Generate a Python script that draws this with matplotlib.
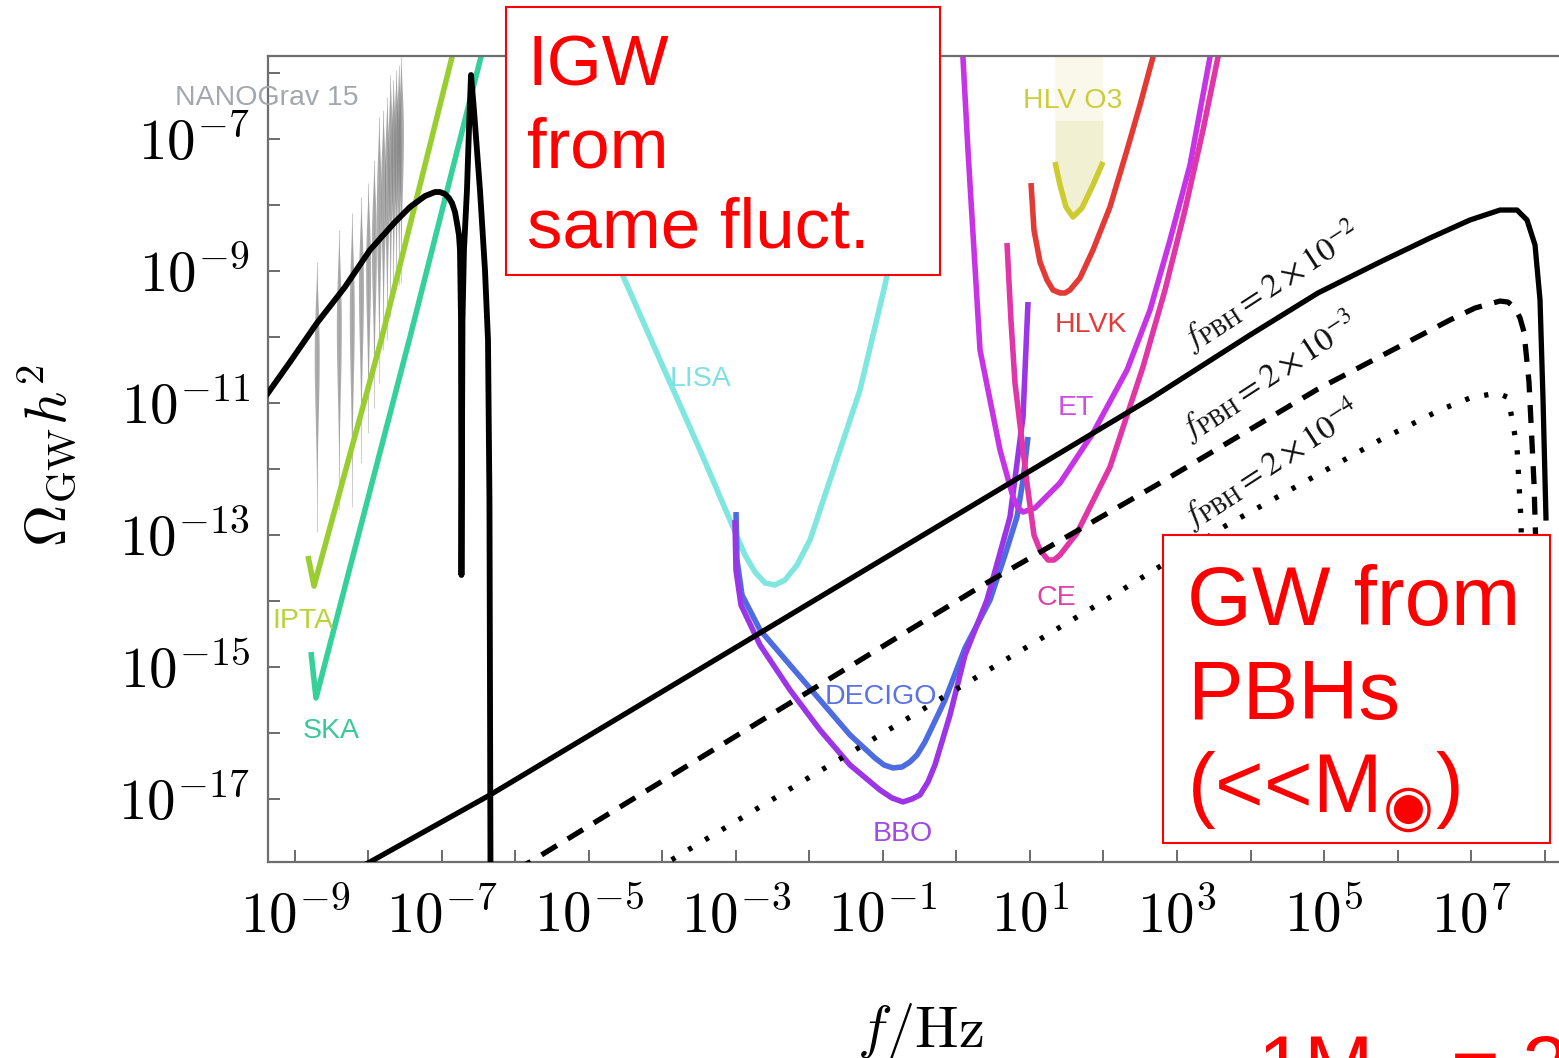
"""
Omega_GW h^2 versus frequency: induced GWs, GWs from evaporating PBHs and
detector sensitivity curves. Writes out.png.
"""
import matplotlib
matplotlib.use("Agg")
import matplotlib.pyplot as plt
import numpy as np
from matplotlib.patches import Rectangle

plt.rcParams["mathtext.fontset"] = "cm"
plt.rcParams["font.family"] = ["Liberation Sans", "DejaVu Sans"]

# ---- data (log10 f [Hz], log10 Omega_GW h^2) ----
IGW_LOGF = [-9.40, -9.068, -8.701, -8.320, -7.980, -7.639, -7.435, -7.231, -7.095,
            -7.027, -6.959, -6.905, -6.864, -6.823, -6.796, -6.769, -6.755, -6.741,
            -6.735, -6.721, -6.701, -6.660, -6.633, -6.605, -6.565, -6.483, -6.415,
            -6.374, -6.354, -6.340]
IGW_LOGO = [-10.90, -10.379, -9.788, -9.242, -8.682, -8.258, -8.030, -7.864, -7.803,
            -7.803, -7.833, -7.894, -7.970, -8.106, -8.273, -8.455, -8.682, -9.742,
            -13.606, -9.742, -8.682, -7.773, -6.864, -6.030, -6.561, -7.773, -8.985,
            -10.045, -12.470, -18.076]

NANO_LOGF = [-8.704, -8.403, -8.227, -8.102, -8.005, -7.926, -7.859,
             -7.801, -7.750, -7.704, -7.663, -7.625, -7.590, -7.558]
NANO_TOP = [-8.864, -8.379, -8.121, -7.879, -7.667, -7.318, -6.667,
            -6.561, -6.364, -6.030, -6.106, -5.955, -5.879, -5.758]
NANO_BOT = [-12.955, -12.621, -12.576, -11.909, -11.455, -11.076, -10.697,
            -10.197, -10.045, -9.697, -9.439, -9.288, -9.212, -9.182]

IPTA_LOGF = [-8.823, -8.741, -7.816, -6.823]
IPTA_LOGO = [-13.318, -13.773, -10.00, -5.576]

SKA_LOGF = [-8.782, -8.714, -7.435, -6.429]
SKA_LOGO = [-14.773, -15.470, -10.00, -5.576]

LISA_LOGF = [-5.952, -4.483, -4.034, -3.490, -3.082, -2.878, -2.741, -2.605, -2.469,
             -2.333, -2.170, -1.993, -1.721, -1.313, -0.973, -0.293]
LISA_LOGO = [-5.500, -9.212, -10.348, -11.712, -12.773, -13.303, -13.561, -13.727,
             -13.758, -13.682, -13.455, -13.076, -12.167, -10.803, -9.212, -5.500]

DECIGO_LOGF = [-3.000, -2.986, -2.918, -2.673, -2.265, -1.857, -1.449, -1.109, -0.986,
               -0.864, -0.741, -0.633, -0.537, -0.429, -0.156, 0.116, 0.456, 0.660,
               0.823, 0.905, 0.973]
DECIGO_LOGO = [-12.652, -13.379, -13.909, -14.439, -14.970, -15.500, -16.030, -16.379,
               -16.485, -16.530, -16.515, -16.439, -16.333, -16.136, -15.500, -14.712,
               -13.985, -13.303, -12.727, -12.167, -11.515]

BBO_LOGF = [-3.014, -3.000, -2.932, -2.673, -2.265, -1.857, -1.449, -1.041, -0.878,
            -0.728, -0.605, -0.497, -0.388, -0.293, -0.088, 0.116, 0.415, 0.728,
            0.905, 0.973]
BBO_LOGO = [-12.773, -13.530, -14.061, -14.667, -15.348, -15.955, -16.485, -16.864,
            -16.985, -17.045, -17.000, -16.939, -16.742, -16.485, -15.727, -14.818,
            -13.985, -12.727, -11.212, -9.470]

ET_LOGF = [0.075, 0.156, 0.320, 0.592, 0.769, 0.837, 0.905, 1.068, 1.408, 1.857,
           2.320, 2.633, 2.905, 3.177, 3.449, 3.503]
ET_LOGO = [-5.500, -7.167, -10.197, -11.712, -12.424, -12.591, -12.652, -12.591,
           -12.212, -11.455, -10.500, -9.591, -8.530, -7.394, -5.758, -5.424]

CE_LOGF = [0.687, 0.741, 0.796, 0.959, 1.054, 1.136, 1.245, 1.327, 1.408, 1.639,
           2.088, 2.537, 2.837, 3.109, 3.354, 3.558, 3.612]
CE_LOGO = [-8.576, -9.742, -10.697, -12.212, -13.000, -13.227, -13.379, -13.379,
           -13.303, -12.970, -11.970, -10.455, -9.288, -8.076, -6.864, -5.758, -5.424]

HLVK_LOGF = [1.014, 1.054, 1.136, 1.231, 1.313, 1.408, 1.476, 1.544, 1.680, 1.857,
             2.088, 2.320, 2.497, 2.673, 2.728]
HLVK_LOGO = [-7.667, -8.379, -8.864, -9.136, -9.288, -9.333, -9.333, -9.288, -9.106,
             -8.682, -8.030, -7.167, -6.485, -5.758, -5.500]

O3_LOGF = [1.340, 1.408, 1.490, 1.585, 1.707, 1.857, 1.993]
O3_LOGO = [-7.348, -7.697, -8.030, -8.182, -8.045, -7.697, -7.348]

PBH2_LOGF = [-8.184, -7.980, -6.347, 2.633, 3.993, 4.918, 5.762, 6.442, 6.986,
             7.395, 7.626, 7.762, 7.871, 7.939, 7.980, 8.020]
PBH2_LOGO = [-18.076, -17.955, -16.939, -10.939, -9.970, -9.333, -8.864, -8.500,
             -8.227, -8.076, -8.076, -8.227, -8.606, -9.439, -10.955, -12.742]

PBH3_LOGF = [-6.007, -5.803, 0.361, 2.769, 4.918, 6.714, 7.054, 7.395, 7.503,
             7.599, 7.667, 7.721, 7.789, 7.857, 7.912]
PBH3_LOGO = [-18.076, -17.955, -13.758, -12.212, -10.788, -9.742, -9.561, -9.455,
             -9.470, -9.561, -9.712, -9.924, -10.682, -12.212, -14.288]

PBH4_LOGF = [-4.102, -3.925, 2.184, 3.680, 5.762, 6.578, 6.986, 7.354, 7.490,
             7.531, 7.626, 7.680, 7.707]
PBH4_LOGO = [-18.076, -17.955, -13.879, -12.848, -11.561, -11.106, -10.924, -10.848,
             -10.909, -11.076, -11.667, -12.773, -14.288]

PBH_LABELS = [r"$f_{\rm PBH} = 2\times 10^{-2}$",
              r"$f_{\rm PBH} = 2\times 10^{-3}$",
              r"$f_{\rm PBH} = 2\times 10^{-4}$"]

X_EXP = list(range(-9, 9))
Y_EXP = list(range(-17, -5))


def p(lf, lo):
    return 10.0 ** np.asarray(lf), 10.0 ** np.asarray(lo)


fig = plt.figure(figsize=(15.59, 10.58), dpi=100)
ax = fig.add_axes([268 / 1559, 196 / 1058, 1299 / 1559, 806 / 1058])
ax.set_xscale("log")
ax.set_yscale("log")
ax.set_xlim(10 ** -9.367, 10 ** 8.306)
ax.set_ylim(10 ** -17.955, 10 ** -5.742)

# NANOGrav 15 free-spectrum violins
for lf, top, bot in zip(NANO_LOGF, NANO_TOP, NANO_BOT):
    t = np.linspace(0, 1, 60)
    ly = bot + t * (top - bot)
    w = 0.034 * np.sin(np.pi * t ** 1.6) ** 1.5
    ax.fill_betweenx(10 ** ly, 10 ** (lf - w), 10 ** (lf + w),
                     color="#777777", alpha=0.6, lw=0, zorder=1)
    ax.vlines(10 ** lf, 10 ** bot, 10 ** top, color="#999999", lw=0.8,
              alpha=0.45, zorder=1)

# HLV O3 shaded band
xo, yo = p(O3_LOGF, O3_LOGO)
ax.fill_between(xo, yo, 10 ** -6.712, color="#f2f0d3", lw=0, zorder=1)
ax.fill_between([xo[0], xo[-1]], 10 ** -6.712, 10 ** -5.6, color="#f9f8ea",
                lw=0, zorder=1)

curves = [
    (IPTA_LOGF, IPTA_LOGO, "#9acd32"),
    (SKA_LOGF, SKA_LOGO, "#36d09b"),
    (LISA_LOGF, LISA_LOGO, "#7fe6e0"),
    (DECIGO_LOGF, DECIGO_LOGO, "#4e6ce2"),
    (BBO_LOGF, BBO_LOGO, "#9b35e6"),
    (ET_LOGF, ET_LOGO, "#c634e6"),
    (CE_LOGF, CE_LOGO, "#e036a8"),
    (HLVK_LOGF, HLVK_LOGO, "#e43a36"),
    (O3_LOGF, O3_LOGO, "#cccc30"),
]
for lf, lo, c in curves:
    ax.plot(*p(lf, lo), color=c, lw=4.0, solid_capstyle="butt",
            solid_joinstyle="round", zorder=2)

ax.plot(*p(IGW_LOGF, IGW_LOGO), color="black", lw=4.2, zorder=4,
        solid_joinstyle="round")
ax.plot(*p(PBH2_LOGF, PBH2_LOGO), color="black", lw=3.8, zorder=4,
        solid_joinstyle="round")
ax.plot(*p(PBH3_LOGF, PBH3_LOGO), color="black", lw=3.8, zorder=4,
        linestyle=(0, (3.4, 2.4)), dash_capstyle="butt")
ax.plot(*p(PBH4_LOGF, PBH4_LOGO), color="black", lw=3.8, zorder=4,
        linestyle=(0, (0.8, 2.9)), dash_capstyle="butt")

# detector labels
lab_kw = dict(fontsize=20.5, ha="left", va="baseline", zorder=5, clip_on=False)
ax.text(10 ** -10.633, 10 ** -6.485, "NANOGrav 15", color="#a3a8ad", **lab_kw)
ax.text(10 ** -9.313, 10 ** -14.409, "IPTA", color="#b8d33a", **lab_kw)
ax.text(10 ** -8.891, 10 ** -16.076, "SKA", color="#3cc99a", **lab_kw)
ax.text(10 ** -3.898, 10 ** -10.742, "LISA", color="#7ee0e0", **lab_kw)
ax.text(10 ** -1.789, 10 ** -15.561, "DECIGO", color="#5b73e6", **lab_kw)
ax.text(10 ** -1.136, 10 ** -17.636, "BBO", color="#a04be8", **lab_kw)
ax.text(10 ** 1.381, 10 ** -11.182, "ET", color="#cf4ee6", **lab_kw)
ax.text(10 ** 1.095, 10 ** -14.061, "CE", color="#e040a8", **lab_kw)
ax.text(10 ** 1.340, 10 ** -9.924, "HLVK", color="#e53a3a", **lab_kw)
ax.text(10 ** 0.905, 10 ** -6.530, "HLV O3", color="#cdcd3a", **lab_kw)

for (lf, lo), s in zip([(3.204, -10.197), (3.177, -11.561), (3.204, -12.894)],
                       PBH_LABELS):
    ax.text(10 ** lf, 10 ** lo, s, fontsize=24, rotation=33,
            rotation_mode="anchor", ha="left", va="baseline", color="#111111",
            math_fontfamily="stix", zorder=5)

# axes styling
ax.set_xticks([10.0 ** k for k in X_EXP])
ax.set_xticklabels([r"$10^{%d}$" % k if k % 2 else "" for k in X_EXP])
ax.set_yticks([10.0 ** k for k in Y_EXP])
ax.set_yticklabels([r"$10^{%d}$" % k if k % 2 else "" for k in Y_EXP])
ax.minorticks_off()
ax.tick_params(which="major", direction="in", length=8.6, width=1.1,
               color="#444444", labelsize=41)
ax.tick_params(axis="x", pad=20)
ax.tick_params(axis="y", pad=13)
for side in ("left", "bottom", "top"):
    ax.spines[side].set_color("#6e6e6e")
    ax.spines[side].set_linewidth(1.6)
ax.spines["right"].set_visible(False)

ax.set_xlabel(r"$f/{\rm Hz}$", fontsize=42)
ax.xaxis.set_label_coords(0.502, -0.172)
ax.set_ylabel(r"$\Omega_{\rm GW}h^2$", fontsize=42)
ax.yaxis.set_label_coords(-0.146, 0.505)

# red annotation boxes
red = "#ff0000"
fig.patches.append(Rectangle((506 / 1559, 1 - 275 / 1058), 434 / 1559, 268 / 1058,
                             transform=fig.transFigure, facecolor="white",
                             edgecolor=red, lw=1.5, zorder=10))
fig.patches.append(Rectangle((1163 / 1559, 1 - 843 / 1058), 387 / 1559, 308 / 1058,
                             transform=fig.transFigure, facecolor="white",
                             edgecolor=red, lw=1.5, zorder=10))
for y, s in zip([85, 167, 248], ["IGW", "from", "same fluct."]):
    fig.text(527 / 1559, 1 - y / 1058, s, fontsize=51, color=red,
             va="baseline", ha="left", zorder=11)
for y, s in zip([625, 719, 812], ["GW from", "PBHs", "(<<M$_{\u25c9}$)"]):
    fig.text(1187 / 1559, 1 - y / 1058, s, fontsize=60, color=red,
             va="baseline", ha="left", zorder=11, math_fontfamily="dejavusans")
fig.text(1257 / 1559, -0.035, "1M$_{\u25c9}$ = 2\u00d710$^{33}$g", fontsize=60,
         color=red, va="baseline", ha="left", zorder=11,
         math_fontfamily="dejavusans")

fig.savefig("out.png", dpi=100)
